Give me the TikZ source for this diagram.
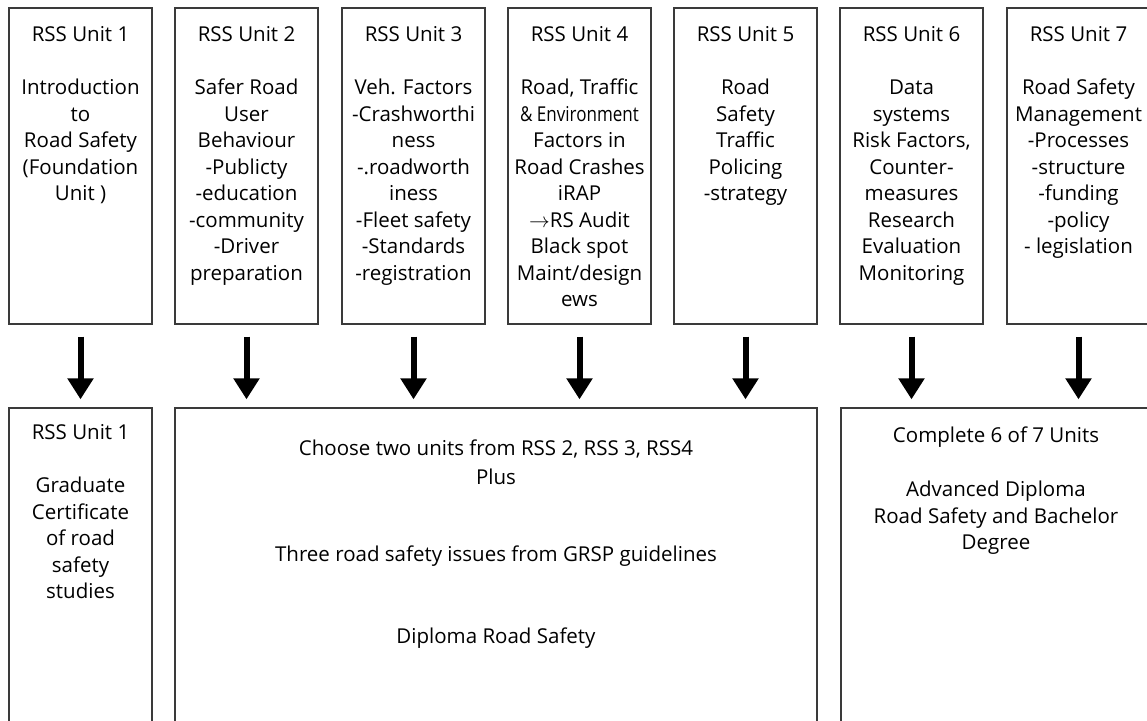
\documentclass[tikz,border=0pt]{standalone}
\usepackage{amsmath}
\usepackage{fontspec}
\setmainfont{Open Sans}
\usetikzlibrary{arrows.meta, positioning}
\definecolor{boxgray}{HTML}{3A3A3A}

\begin{document}
\begin{tikzpicture}[x=1pt, y=-1pt,
    unit/.style = {draw=boxgray, line width=1.3pt, inner sep=0pt,
                   minimum width=143pt, minimum height=316pt},
    txt/.style  = {align=center, inner sep=0pt,
                   font=\fontsize{20.5}{26.5}\selectfont},
    down/.style = {-{Triangle[length=21pt, width=25pt]}, line width=6pt,
                   shorten <=12pt, shorten >=8pt},
  ]
    \useasboundingbox (0,0) rectangle (1147,720);
    \clip (0,0) rectangle (1147,720);

    %% ── Unit boxes (top row) ────────────────────────────────────────────────
    \node[unit] (u1) at (80.5,  166) {};
    \node[unit] (u2) at (246.5, 166) {};
    \node[unit] (u3) at (413.5, 166) {};
    \node[unit] (u4) at (579.5, 166) {};
    \node[unit] (u5) at (745.5, 166) {};
    \node[unit] (u6) at (911.5, 166) {};
    \node[unit] (u7) at (1078.5,166) {};

    \node[txt, below=19pt of u1.north] (t1)
          {RSS Unit 1\\[26.5pt]Introduction\\to\\Road Safety\\(Foundation\\Unit )};
    \node[txt, below=19pt of u2.north] (t2)
          {RSS Unit 2\\[26.5pt]Safer Road\\User\\Behaviour\\-Publicty\\-education\\-community\\-Driver\\preparation};
    \node[txt, below=19pt of u3.north] (t3)
          {RSS Unit 3\\[26.5pt]Veh. Factors\\-Crashworthi\\ness\\-.roadworth\\iness\\-Fleet safety\\-Standards\\-registration};
    \node[txt, below=19pt of u4.north] (t4)
          {RSS Unit 4\\[26.5pt]Road, Traffic\\\scalebox{0.83}[1]{\& Environment}\\Factors in\\Road Crashes\\iRAP\\$\rightarrow$RS Audit\\Black spot\\Maint/design\\ews};
    \node[txt, below=19pt of u5.north] (t5)
          {RSS Unit 5\\[26.5pt]Road\\Safety\\Traffic\\Policing\\-strategy};
    \node[txt, below=19pt of u6.north] (t6)
          {RSS Unit 6\\[26.5pt]Data\\systems\\Risk Factors,\\Counter-\\measures\\Research\\Evaluation\\Monitoring};
    \node[txt, below=19pt of u7.north] (t7)
          {RSS Unit 7\\[26.5pt]Road Safety\\Management\\-Processes\\-structure\\-funding\\-policy\\- legislation};

    %% ── Award boxes (bottom row) ────────────────────────────────────────────
    \node[unit, minimum height=330pt]                    (grad) at (80.5, 573) {};
    \node[unit, minimum width=642pt, minimum height=330pt] (dip)  at (496,  573) {};
    \node[unit, minimum width=310pt, minimum height=330pt] (adv)  at (996,  573) {};

    \node[txt, below=17pt of grad.north] (tgrad)
          {RSS Unit 1\\[26.5pt]Graduate\\Certificate\\of road\\safety\\studies};
    \node[txt, below=32pt of dip.north] (tdip)
          {Choose two units from RSS 2, RSS 3, RSS4\\[2.5pt]Plus\\[51pt]Three road safety issues from GRSP guidelines\\[55pt]Diploma Road Safety};
    \node[txt, below=19pt of adv.north] (tadv)
          {Complete 6 of 7 Units\\[28pt]Advanced Diploma\\Road Safety and Bachelor\\Degree};

    %% Units feed the awards
    \draw[down] (u1.south) -- (u1.south |- grad.north);
    \draw[down] (u2.south) -- (u2.south |- dip.north);
    \draw[down] (u3.south) -- (u3.south |- dip.north);
    \draw[down] (u4.south) -- (u4.south |- dip.north);
    \draw[down] (u5.south) -- (u5.south |- dip.north);
    \draw[down] (u6.south) -- (u6.south |- adv.north);
    \draw[down] (u7.south) -- (u7.south |- adv.north);

  \end{tikzpicture}
\end{document}
